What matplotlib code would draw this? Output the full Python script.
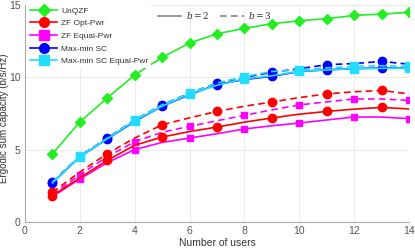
import matplotlib
matplotlib.use("Agg")
import matplotlib.pyplot as plt
from matplotlib.lines import Line2D

plt.rcParams['font.family'] = ['Liberation Sans', 'DejaVu Sans']
plt.rcParams['mathtext.fontset'] = 'dejavuserif'

users = list(range(1, 15))

unqzf = [4.70, 6.91, 8.57, 10.16, 11.38, 12.37, 13.01, 13.38, 13.70, 13.91, 14.05, 14.28, 14.37, 14.49]

zf_opt_b2 = [1.82, 3.05, 4.26, 5.30, 5.87, 6.25, 6.56, 6.90, 7.19, 7.45, 7.64, 7.80, 7.92, 7.81]
zf_opt_b3 = [2.05, 3.45, 4.72, 5.80, 6.72, 7.20, 7.64, 8.00, 8.29, 8.60, 8.85, 9.00, 9.09, 8.85]

zf_eq_b2 = [1.75, 2.97, 4.10, 5.00, 5.50, 5.80, 6.10, 6.43, 6.65, 6.84, 7.05, 7.26, 7.25, 7.14]
zf_eq_b3 = [1.90, 3.27, 4.50, 5.55, 6.20, 6.61, 7.00, 7.37, 7.75, 8.09, 8.30, 8.50, 8.50, 8.40]

mm_b2 = [2.70, 4.50, 5.74, 6.95, 8.00, 8.80, 9.50, 9.85, 10.07, 10.40, 10.52, 10.60, 10.64, 10.64]
mm_b3 = [2.76, 4.55, 5.80, 7.05, 8.10, 8.90, 9.60, 10.00, 10.34, 10.60, 10.87, 10.95, 11.10, 10.90]

mmeq_b2 = [2.70, 4.50, 5.75, 7.00, 8.00, 8.85, 9.45, 9.90, 10.10, 10.42, 10.50, 10.60, 10.62, 10.64]
mmeq_b3 = [2.75, 4.53, 5.80, 7.05, 8.10, 8.90, 9.60, 10.05, 10.40, 10.50, 10.65, 10.75, 10.80, 10.75]

methods = ["UnQZF", "ZF Opt-Pwr", "ZF Equal-Pwr", "Max-min SC", "Max-min SC Equal-Pwr"]
bits_labels = [r"$b=2$", r"$b=3$"]

fig = plt.figure(figsize=(4.15, 2.48), dpi=100)
ax = fig.add_axes([0.060, 0.105, 0.926, 0.875])

GREEN = '#22ee22'
RED = '#ff0000'
MAG = '#ff00ff'
BLUE = '#0000ff'
CYAN = '#22ddff'
lw = 1.2
dash = (0, (4, 2.5))

ax.plot(users, unqzf, color=GREEN, lw=lw, marker='D', ms=5, markevery=1, zorder=5)

ax.plot(users, mm_b2, color=BLUE, lw=lw, ls='-', marker='o', ms=6, markevery=(0, 2), zorder=3)
ax.plot(users, mm_b3, color=BLUE, lw=lw, ls=dash, marker='o', ms=6, markevery=(0, 2), zorder=3)
ax.plot(users, mmeq_b2, color=CYAN, lw=lw, ls='-', marker='s', ms=5.5, markevery=(1, 2), zorder=4)
ax.plot(users, mmeq_b3, color=CYAN, lw=lw, ls=dash, marker='s', ms=5.5, markevery=(1, 2), zorder=4)

ax.plot(users, zf_opt_b2, color=RED, lw=lw, ls='-', marker='o', ms=6, markevery=(0, 2), zorder=4)
ax.plot(users, zf_opt_b3, color=RED, lw=lw, ls=dash, marker='o', ms=6, markevery=(0, 2), zorder=4)
ax.plot(users, zf_eq_b2, color=MAG, lw=lw, ls='-', marker='s', ms=5, markevery=(1, 2), zorder=3)
ax.plot(users, zf_eq_b3, color=MAG, lw=lw, ls=dash, marker='s', ms=5, markevery=(1, 2), zorder=3)

ax.set_xlim(0, 14)
ax.set_ylim(0, 15)
ax.set_xticks(range(0, 15, 2))
ax.set_yticks([0, 5, 10, 15])
ax.grid(True, color='#e8e8e8', lw=0.6)
ax.set_axisbelow(True)
for s in ['top', 'right']:
    ax.spines[s].set_visible(False)
for s in ['left', 'bottom']:
    ax.spines[s].set_color('#aaaaaa')
    ax.spines[s].set_linewidth(0.8)
ax.tick_params(colors='#555555', labelsize=7.5, length=0, pad=3)
ax.set_xlabel("Number of users", fontsize=7.5, color='#333333', labelpad=1.5)
ax.set_ylabel("Ergodic sum capacity (b/s/Hz)", fontsize=7, color='#333333')
ax.yaxis.set_label_coords(-0.042, 0.48)

cols = [GREEN, RED, MAG, BLUE, CYAN]
mks = ['D', 'o', 's', 'o', 's']
handles = [Line2D([], [], color=c, lw=lw, marker=m, ms=7 if m == 'o' else 6.5) for c, m in zip(cols, mks)]
leg1 = ax.legend(handles, methods, loc='upper left', bbox_to_anchor=(0.0, 1.015), fontsize=6,
                 frameon=True, framealpha=1, edgecolor='none', facecolor='white',
                 handlelength=3.3, labelspacing=0.58, borderpad=0.3, borderaxespad=0.3,
                 handletextpad=0.45)
for t in leg1.get_texts():
    t.set_color('#333333')
ax.add_artist(leg1)

h2 = [Line2D([], [], color='#888888', lw=lw, ls='-'), Line2D([], [], color='#888888', lw=lw, ls=dash)]
leg2 = ax.legend(h2, bits_labels, loc='upper left', bbox_to_anchor=(0.325, 1.015), ncol=2, fontsize=6.5,
                 frameon=False, handlelength=2.6, columnspacing=1.2, handletextpad=0.5)
for t in leg2.get_texts():
    t.set_color('#333333')

fig.savefig("out.png", dpi=100)
